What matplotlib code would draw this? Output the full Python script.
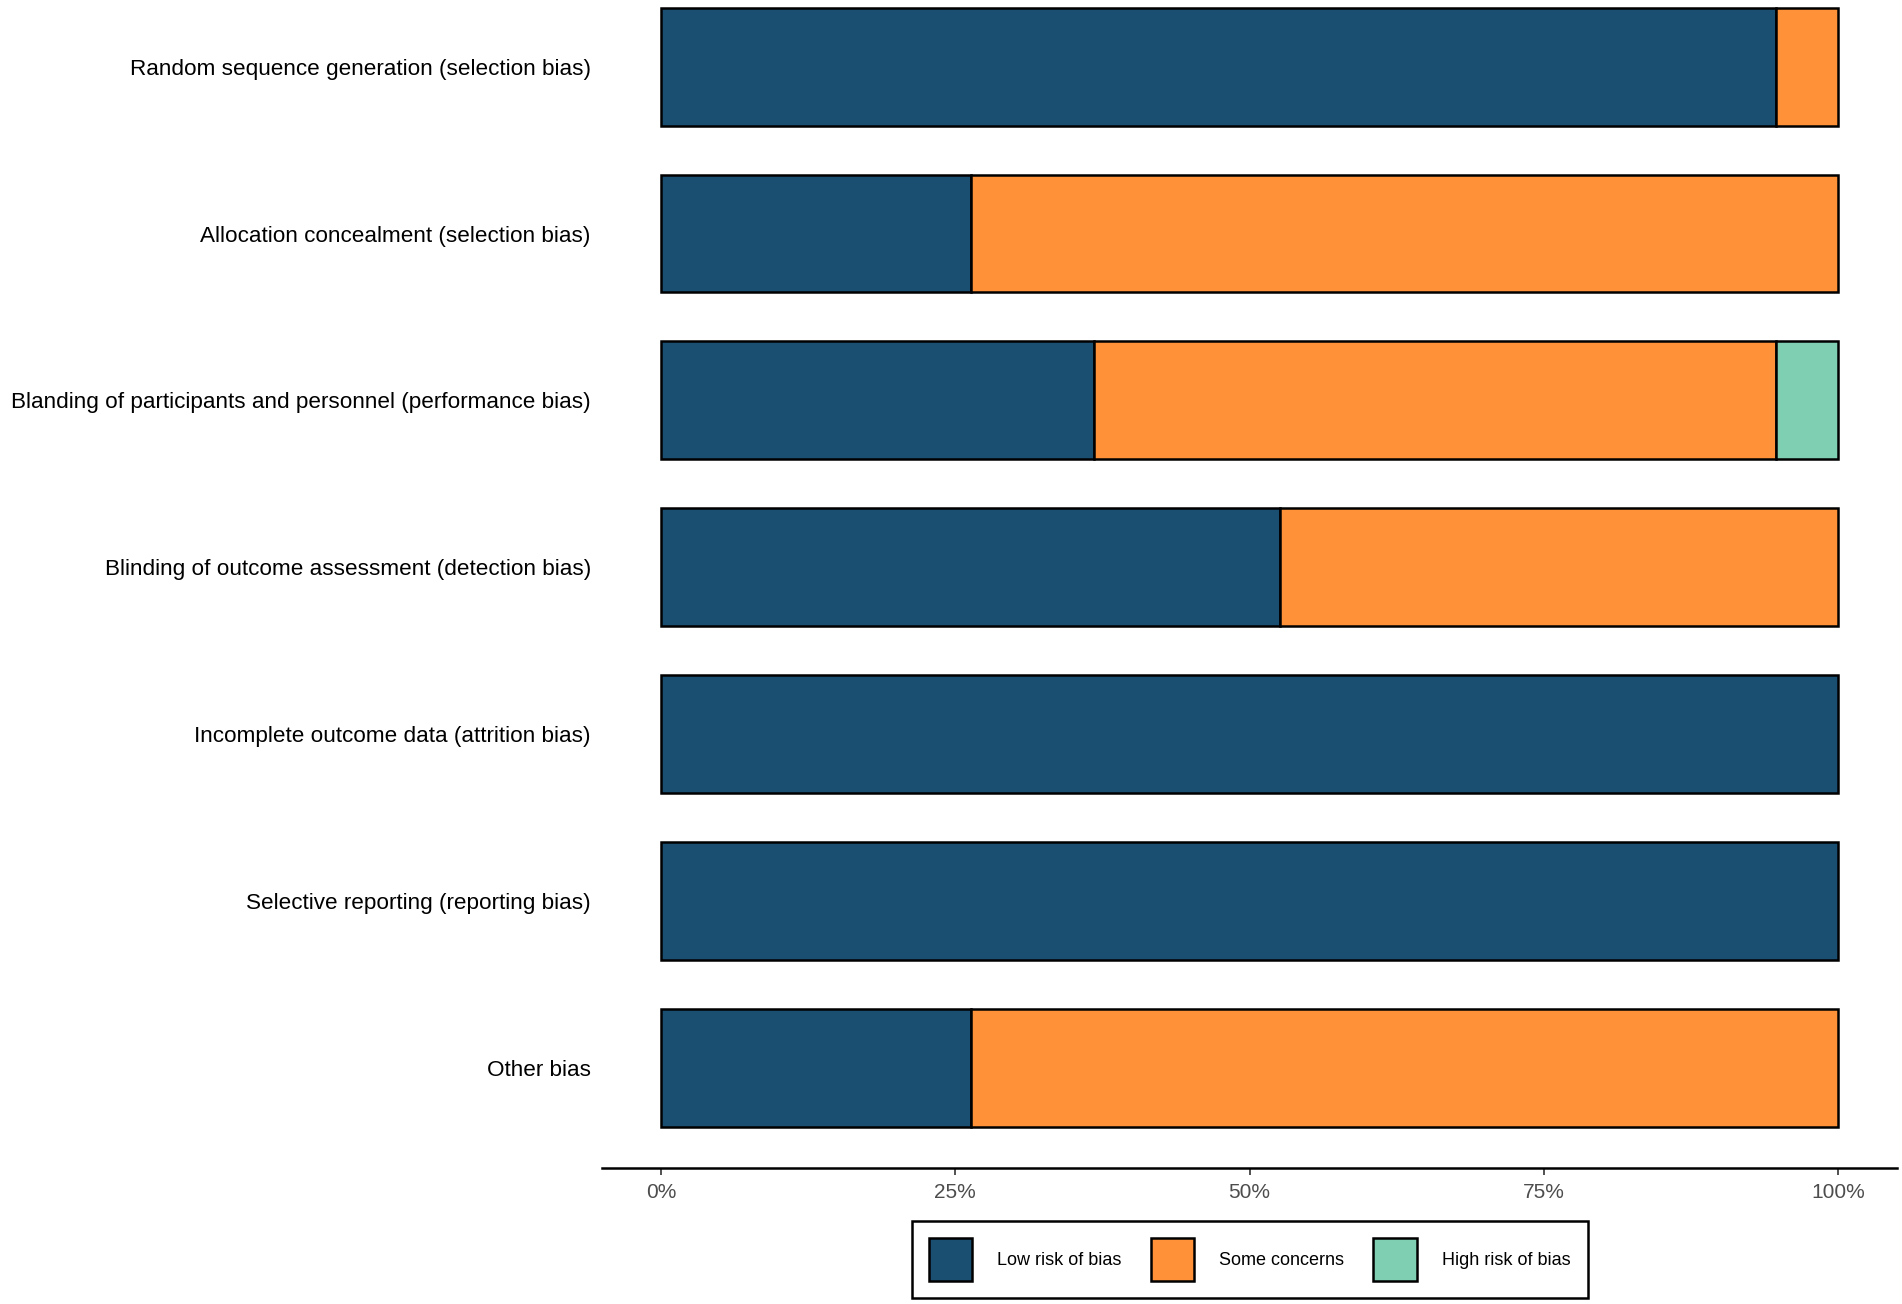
import numpy as np
import matplotlib.pyplot as plt
from matplotlib.patches import Patch

plt.rcParams['font.family'] = ['Liberation Sans', 'DejaVu Sans']

# ============== 数据 ==============
domains = [
    "Random sequence generation (selection bias)",
    "Allocation concealment (selection bias)",
    "Blanding of participants and personnel (performance bias)",
    "Blinding of outcome assessment (detection bias)",
    "Incomplete outcome data (attrition bias)",
    "Selective reporting (reporting bias)",
    "Other bias",
]
# percent of studies (19 studies)
low_risk = [94.7, 26.3, 36.8, 52.6, 100.0, 100.0, 26.3]
some_concerns = [5.3, 73.7, 57.9, 47.4, 0.0, 0.0, 73.7]
high_risk = [0.0, 0.0, 5.3, 0.0, 0.0, 0.0, 0.0]

series_names = ["Low risk of bias", "Some concerns", "High risk of bias"]
colors = ["#1B4F72", "#FF9138", "#7FCFB3"]
tick_vals = [0, 25, 50, 75, 100]
tick_labels = ["0%", "25%", "50%", "75%", "100%"]

# ============== 绘图 ==============
fig = plt.figure(figsize=(19.02, 13.04), dpi=100)
ax = fig.add_axes([0.3165, 0.1045, 0.681, 0.8955])

y = np.arange(len(domains))
left = np.zeros(len(domains))
for vals, col in zip([low_risk, some_concerns, high_risk], colors):
    vals = np.array(vals)
    mask = vals > 0
    ax.barh(y[mask], vals[mask], left=left[mask], height=0.706,
            color=col, edgecolor='black', linewidth=1.8)
    left += vals

ax.set_ylim(6.6, -0.4)
ax.set_xlim(-5, 105)
ax.set_yticks(y)
ax.set_yticklabels(domains, fontsize=16.2, color='black')
ax.tick_params(axis='y', length=0, pad=8)
ax.set_xticks(tick_vals)
ax.set_xticklabels(tick_labels, fontsize=15, color='#4D4D4D')
ax.tick_params(axis='x', length=5, width=1.2, color='#333333', pad=6)

for s in ['top', 'right', 'left']:
    ax.spines[s].set_visible(False)
ax.spines['bottom'].set_linewidth(1.8)

handles = [Patch(facecolor=c, edgecolor='black', linewidth=1.8, label=n)
           for c, n in zip(colors, series_names)]
leg = fig.legend(handles=handles, loc='center', bbox_to_anchor=(0.657, 0.034),
                 ncol=3, fontsize=13, frameon=True, fancybox=False, framealpha=1,
                 handlelength=2.4, handleheight=3.3, columnspacing=1.6,
                 handletextpad=1.4, borderpad=0.95)
leg.get_frame().set_edgecolor('black')
leg.get_frame().set_linewidth(1.8)

plt.savefig('out.png', dpi=100)
